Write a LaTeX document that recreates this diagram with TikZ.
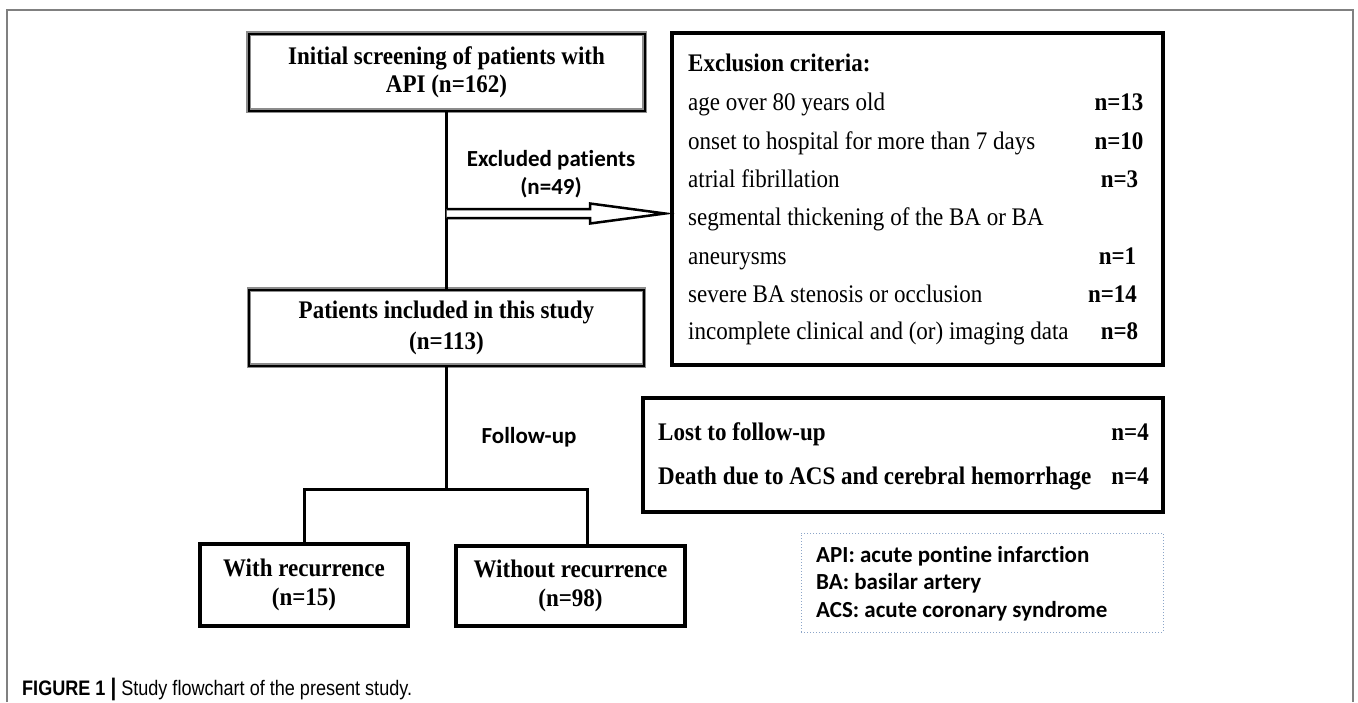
\documentclass[tikz,border=0pt]{standalone}
\usepackage{fontspec}
\usetikzlibrary{calc}
\setmainfont{Liberation Serif}[FakeStretch=0.91]
\newfontfamily\calfont{Carlito}[Ligatures={NoCommon}]
\newfontfamily\capfont[FakeStretch=0.86]{Liberation Sans}
\newcommand{\tfs}{\fontsize{25.3}{28}\selectfont}
\begin{document}
\begin{tikzpicture}[x=1pt,y=-1pt,
  mainbox/.style={rectangle, inner sep=0pt, draw=black, line width=2pt,
     preaction={draw=black!45, line width=4.5pt}, align=center,
     font=\fontsize{25.3}{28}\selectfont\bfseries},
  heavybox/.style={rectangle, inner sep=0pt, draw=black, line width=4pt},
  endbox/.style={rectangle, inner sep=0pt, draw=black, line width=3.5pt, align=center,
     font=\fontsize{25.3}{29}\selectfont\bfseries},
  legbox/.style={rectangle, inner sep=0pt, draw={rgb,255:red,140;green,165;blue,200}, dotted, line width=1pt},
  conn/.style={line width=3pt, black},
  rowtxt/.style={anchor=base west, inner sep=0pt, font=\tfs},
  numtxt/.style={anchor=base, inner sep=0pt, font=\tfs\bfseries},
  caltxt/.style={inner sep=0pt, font=\fontsize{23}{28}\calfont\bfseries},
]
\useasboundingbox (0,0) rectangle (1358,702);
% outer frame
\draw[line width=1.5pt, black!50] (7,702) -- (7,10) -- (1353,10) -- (1353,702);

% main boxes
\node[mainbox, minimum width=396, minimum height=77] (b1) at (446.5,72)
  {Initial screening of patients with\\API (n=162)};
\node[mainbox, minimum width=395, minimum height=76, font=\fontsize{25.3}{31}\selectfont\bfseries] (b2) at (446.5,327.5)
  {Patients included in this study\\(n=113)};
\draw[conn] (b1.south) -- (b2.north);

% exclusion box
\node[heavybox, minimum width=491, minimum height=332] (ex) at (917.5,199) {};
\node[rowtxt, font=\tfs\bfseries] (exh) at (688,71) {Exclusion criteria:};
\node[rowtxt] (r1) at (688,110) {age over 80 years old};
\node[rowtxt] (r2) at (688,149) {onset to hospital for more than 7 days};
\node[rowtxt] (r3) at (688,187) {atrial fibrillation};
\node[rowtxt] (r4) at (688,225) {segmental thickening of the BA or BA};
\node[rowtxt] (r5) at (688,264) {aneurysms};
\node[rowtxt] (r6) at (688,302) {severe BA stenosis or occlusion};
\node[rowtxt] (r7) at (688,339) {incomplete clinical and (or) imaging data};
\node[numtxt] (n1) at (1119,110) {n=13};
\node[numtxt] (n2) at (1119,149) {n=10};
\node[numtxt] (n3) at (1119.5,187) {n=3};
\node[numtxt] (n5) at (1117.5,264) {n=1};
\node[numtxt] (n6) at (1112.5,302) {n=14};
\node[numtxt] (n7) at (1119.5,339) {n=8};

% hollow arrow
\coordinate (as) at (446.5,213.5);
\coordinate (at) at (665,213.5);
\draw[line width=2.5pt, fill=white, line join=miter]
  ($(as)+(0,-4.5)$) -- ($(at)+(-75,-4.5)$) -- ($(at)+(-75,-10)$) -- (at)
  -- ($(at)+(-75,10)$) -- ($(at)+(-75,4.5)$) -- ($(as)+(0,4.5)$);
\node[caltxt, align=center, font=\fontsize{23}{28}\calfont\bfseries] (exl) at (551,174) {Excluded patients\\(n=49)};

% follow-up tree
\node[endbox, minimum width=208, minimum height=82] (w) at (304,585) {With recurrence\\(n=15)};
\node[endbox, minimum width=229, minimum height=80] (wo) at (570.5,586) {Without recurrence\\(n=98)};
\coordinate (sp) at (446.5,489);
\coordinate (br) at (587,489);
\draw[conn] (b2.south) -- (sp);
\draw[conn, line cap=rect] (w.north) |- (br) -- (br |- wo.north);
\node[caltxt] (fu) at (529,437) {Follow-up};

% lost box
\node[heavybox, minimum width=520, minimum height=114] (lost) at (903,455) {};
\node[rowtxt, font=\tfs\bfseries] (l1) at (658,440) {Lost to follow-up};
\node[rowtxt, font=\tfs\bfseries] (l2) at (658,484) {Death due to ACS and cerebral hemorrhage};
\node[numtxt, anchor=base east] (l1n) at (1149,440) {n=4};
\node[numtxt, anchor=base east] (l2n) at (1149,484) {n=4};

% legend
\node[legbox, minimum width=362, minimum height=99] (leg) at (982,582.5) {};
\node[caltxt, anchor=base west] (g1) at (816,562) {API: acute pontine infarction};
\node[caltxt, anchor=base west] (g2) at (816,589) {BA: basilar artery};
\node[caltxt, anchor=base west] (g3) at (816,617) {ACS: acute coronary syndrome};

% caption
\node[anchor=base west, inner sep=0pt, font=\fontsize{21}{24}\capfont] (cap) at (22,695)
  {\textbf{FIGURE 1 {\fontsize{24}{24}\selectfont|}} Study flowchart of the present study.};
\end{tikzpicture}
\end{document}
